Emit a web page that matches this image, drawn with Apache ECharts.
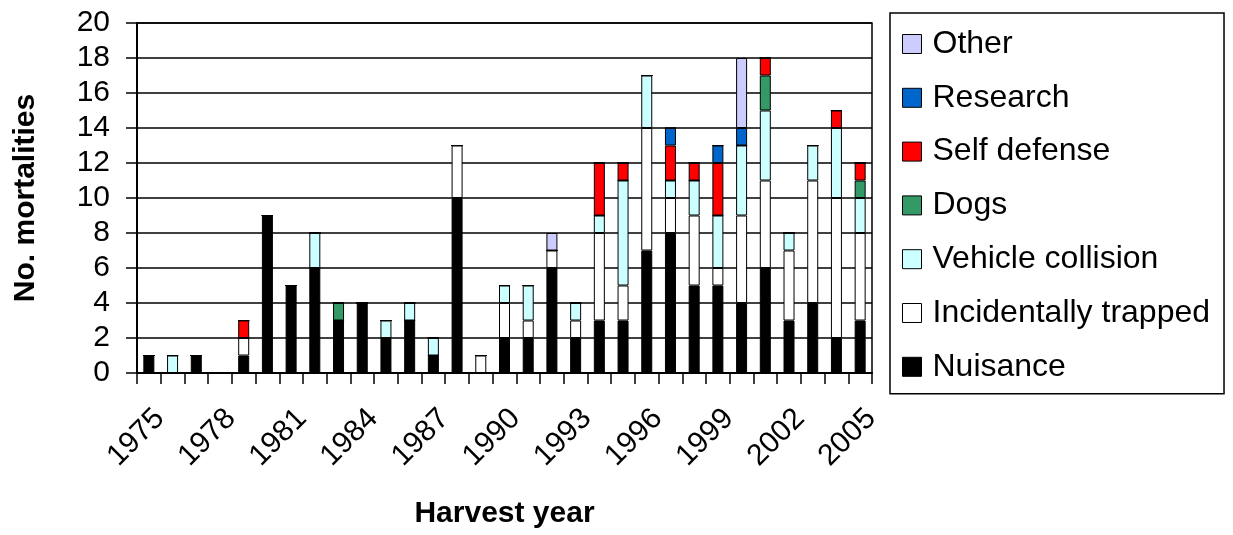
<!DOCTYPE html>
<html>
<head>
<meta charset="utf-8">
<script src="https://cdn.jsdelivr.net/npm/echarts@6/dist/echarts.min.js"></script>
<style>html,body{margin:0;padding:0;background:#fff}#c{width:1233px;height:535px}</style>
</head>
<body>
<div id="c"></div>
<script>
var years = [];
for (var y = 1975; y <= 2005; y++) years.push(String(y));
var xTickLabels = ['1975', '1978', '1981', '1984', '1987', '1990', '1993', '1996', '1999', '2002', '2005'];
var yTicks = [0, 2, 4, 6, 8, 10, 12, 14, 16, 18, 20];
//               75 76 77 78 79 80 81 82 83 84 85 86 87 88 89 90 91 92 93 94 95 96 97 98 99 00 01 02 03 04 05
var nuisance   = [1, 0, 1, 0, 1, 9, 5, 6, 3, 4, 2, 3, 1,10, 0, 2, 2, 6, 2, 3, 3, 7, 8, 5, 5, 4, 6, 3, 4, 2, 3];
var trapped    = [0, 0, 0, 0, 1, 0, 0, 0, 0, 0, 0, 0, 0, 3, 1, 2, 1, 1, 1, 5, 2, 7, 2, 4, 1, 5, 5, 4, 7, 8, 5];
var vehicle    = [0, 1, 0, 0, 0, 0, 0, 2, 0, 0, 1, 1, 1, 0, 0, 1, 2, 0, 1, 1, 6, 3, 1, 2, 3, 4, 4, 1, 2, 4, 2];
var dogs       = [0, 0, 0, 0, 0, 0, 0, 0, 1, 0, 0, 0, 0, 0, 0, 0, 0, 0, 0, 0, 0, 0, 0, 0, 0, 0, 2, 0, 0, 0, 1];
var selfDef    = [0, 0, 0, 0, 1, 0, 0, 0, 0, 0, 0, 0, 0, 0, 0, 0, 0, 0, 0, 3, 1, 0, 2, 1, 3, 0, 1, 0, 0, 1, 1];
var research   = [0, 0, 0, 0, 0, 0, 0, 0, 0, 0, 0, 0, 0, 0, 0, 0, 0, 0, 0, 0, 0, 0, 1, 0, 1, 1, 0, 0, 0, 0, 0];
var other      = [0, 0, 0, 0, 0, 0, 0, 0, 0, 0, 0, 0, 0, 0, 0, 0, 0, 1, 0, 0, 0, 0, 0, 0, 0, 4, 0, 0, 0, 0, 0];

var seriesDefs = [
  {name: 'Nuisance', data: nuisance, color: '#000000'},
  {name: 'Incidentally trapped', data: trapped, color: '#ffffff'},
  {name: 'Vehicle collision', data: vehicle, color: '#ccffff'},
  {name: 'Dogs', data: dogs, color: '#339966'},
  {name: 'Self defense', data: selfDef, color: '#ff0000'},
  {name: 'Research', data: research, color: '#0066cc'},
  {name: 'Other', data: other, color: '#ccccff'}
];
var legendOrder = ['Other', 'Research', 'Self defense', 'Dogs', 'Vehicle collision', 'Incidentally trapped', 'Nuisance'];

var FONT = 'Liberation Sans, Arial, sans-serif';
var chart = echarts.init(document.getElementById('c'), null, {renderer: 'canvas'});
chart.setOption({
  animation: false,
  backgroundColor: '#ffffff',
  grid: {left: 137, right: 361, top: 23, bottom: 162, show: true, borderColor: '#000', borderWidth: 1.5, backgroundColor: 'transparent'},
  legend: {
    data: legendOrder,
    orient: 'vertical',
    left: 890, top: 13,
    width: 337,
    padding: [15, 14, 11, 12],
    borderColor: '#000', borderWidth: 1.5,
    itemWidth: 19, itemHeight: 19, itemGap: 21.8,
    icon: 'rect',
    selectedMode: false,
    itemStyle: {borderColor: '#000', borderWidth: 1},
    textStyle: {fontFamily: FONT, fontSize: 32, color: '#000', lineHeight: 32, padding: [0, 0, 0, 6]}
  },
  xAxis: {
    type: 'category',
    data: years,
    boundaryGap: true,
    name: 'Harvest year',
    nameLocation: 'middle',
    nameGap: 126,
    nameTextStyle: {fontFamily: FONT, fontSize: 30, fontWeight: 'bold', color: '#000'},
    axisLine: {lineStyle: {color: '#000', width: 2}},
    axisTick: {show: true, interval: 0, length: 11, lineStyle: {color: '#000', width: 1.5}},
    axisLabel: {interval: 0, rotate: 45, margin: 30, showMinLabel: true, showMaxLabel: true, hideOverlap: false,
      fontFamily: FONT, fontSize: 30, lineHeight: 31, color: '#000',
      formatter: function (v) { return xTickLabels.indexOf(v) >= 0 ? '\n' + v : ''; }},
    splitLine: {show: false}
  },
  yAxis: {
    type: 'value',
    min: 0, max: 20, interval: 2,
    name: 'No. mortalities',
    nameLocation: 'middle',
    nameGap: 96,
    nameTextStyle: {fontFamily: FONT, fontSize: 30, fontWeight: 'bold', color: '#000'},
    axisLine: {show: true, lineStyle: {color: '#000', width: 2}},
    axisTick: {show: true, length: 11, lineStyle: {color: '#000', width: 1.5}},
    axisLabel: {margin: 27, fontFamily: FONT, fontSize: 30, color: '#000',
      formatter: function (v) { return yTicks.indexOf(v) >= 0 ? String(v) : ''; }},
    splitLine: {show: true, lineStyle: {color: '#000', width: 1.5}}
  },
  series: seriesDefs.map(function (s) {
    return {
      name: s.name,
      type: 'bar',
      stack: 'total',
      barWidth: 11,
      data: s.data,
      itemStyle: {color: s.color, borderColor: '#000', borderWidth: 1}
    };
  })
});
</script>
</body>
</html>
